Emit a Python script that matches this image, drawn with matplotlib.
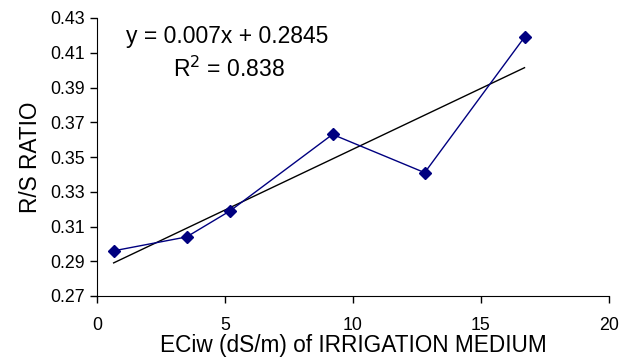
import matplotlib
matplotlib.use("Agg")
import matplotlib.pyplot as plt
import numpy as np

plt.rcParams['font.family'] = ['Liberation Sans', 'DejaVu Sans']

ec = [0.65, 3.5, 5.2, 9.2, 12.8, 16.7]
rs_ratio = [0.296, 0.304, 0.319, 0.363, 0.341, 0.419]
slope = 0.007
intercept = 0.2845
r2 = 0.838
xticks = [0, 5, 10, 15, 20]
yticks = [0.27, 0.29, 0.31, 0.33, 0.35, 0.37, 0.39, 0.41, 0.43]

fig = plt.figure(figsize=(6.21, 3.6), dpi=100)
ax = fig.add_axes([97/621, 64/360, (609-97)/621, (296-18)/360])

ax.plot(ec, rs_ratio, color='#000080', lw=1.0, marker='D', markersize=6,
        markerfacecolor='#000080', markeredgecolor='#000080', zorder=3)
xt = np.array([ec[0], ec[-1]])
ax.plot(xt, slope*xt + intercept, color='black', lw=1.0, zorder=2)

ax.set_xlim(0, 20)
ax.set_ylim(0.27, 0.43)
ax.set_xticks(xticks)
ax.set_yticks(yticks)
ax.set_yticklabels([f"{v:.2f}" for v in yticks])
ax.spines['top'].set_visible(False)
ax.spines['right'].set_visible(False)
ax.tick_params(direction='out', length=5, width=1, labelsize=12.8)
ax.tick_params(axis='x', pad=10)
ax.set_xlabel('ECiw (dS/m) of IRRIGATION MEDIUM', fontsize=16.3, labelpad=0)
ax.set_ylabel('R/S RATIO', fontsize=16.3, labelpad=6)

ax.text(0.255, 0.932, f'y = {slope}x + {intercept}', transform=ax.transAxes,
        fontsize=16.5, ha='center', va='center')
ax.text(0.258, 0.814, f'R$^2$ = {r2}', transform=ax.transAxes,
        fontsize=16.5, ha='center', va='center')

fig.savefig('out.png', dpi=100)
